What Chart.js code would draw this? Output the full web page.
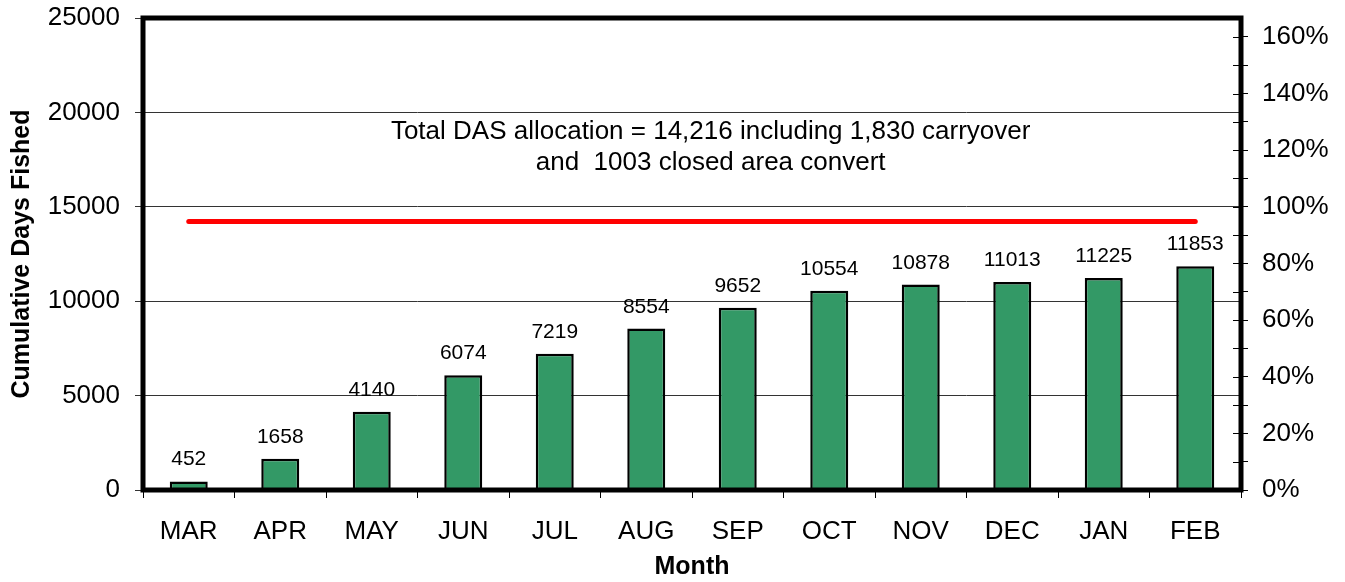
<!DOCTYPE html>
<html><head><meta charset="utf-8">
<script src="https://cdn.jsdelivr.net/npm/chart.js@4/dist/chart.umd.min.js"></script>
<style>html,body{margin:0;padding:0;background:#fff;} canvas{display:block;}</style>
</head><body>
<canvas id="c" width="1345" height="582"></canvas>
<script>
const months = ['MAR','APR','MAY','JUN','JUL','AUG','SEP','OCT','NOV','DEC','JAN','FEB'];
const cumulativeDays = [452, 1658, 4140, 6074, 7219, 8554, 9652, 10554, 10878, 11013, 11225, 11853];
const allocation = [14216, 14216, 14216, 14216, 14216, 14216, 14216, 14216, 14216, 14216, 14216, 14216];
const leftMax = 25000;
const leftStep = 5000;
const percentBaseDays = 15000;   // 100% on the right axis
const rightStep = 10;            // minor tick every 10%, label every 20%
const noteLines = ['Total DAS allocation = 14,216 including 1,830 carryover', 'and  1003 closed area convert'];
const noteValues = [18600, 16950];

const FONT = '"Liberation Sans", Arial, Helvetica, sans-serif';
Chart.defaults.font.family = FONT;
Chart.defaults.color = '#000';

function zeroPad(s) { s.paddingTop = 0; s.paddingBottom = 0; s.paddingLeft = 0; s.paddingRight = 0; }

const overlay = {
  id: 'overlay',
  afterDatasetsDraw(chart) {
    const ctx = chart.ctx;
    const meta = chart.getDatasetMeta(1);
    const a = chart.chartArea;
    const ys = chart.scales.y;
    ctx.save();
    ctx.fillStyle = '#000';
    ctx.textAlign = 'center';
    ctx.textBaseline = 'alphabetic';
    ctx.font = '21px ' + FONT;
    meta.data.forEach((bar, i) => {
      ctx.fillText(String(cumulativeDays[i]), bar.x, bar.y - 16);
    });
    ctx.font = '26px ' + FONT;
    const cx = a.left + a.width * 0.517;
    noteLines.forEach((t, i) => ctx.fillText(t, cx, ys.getPixelForValue(noteValues[i])));
    ctx.restore();
  },
  afterDraw(chart) {
    const ctx = chart.ctx;
    const a = chart.chartArea;
    const y2 = chart.scales.y2;
    ctx.save();
    ctx.strokeStyle = '#000';
    ctx.lineWidth = 1;
    y2.ticks.forEach(t => {
      const py = Math.round(y2.getPixelForValue(t.value)) + 0.5;
      ctx.beginPath();
      ctx.moveTo(a.right - 8, py);
      ctx.lineTo(a.right, py);
      ctx.stroke();
    });
    ctx.lineWidth = 5;
    ctx.strokeRect(a.left, a.top, a.right - a.left, a.bottom - a.top);
    ctx.restore();
  }
};

new Chart(document.getElementById('c'), {
  data: {
    labels: months,
    datasets: [
      {
        type: 'line',
        label: 'Total DAS allocation',
        data: allocation,
        borderColor: '#ff0000',
        borderWidth: 5,
        borderCapStyle: 'round',
        pointRadius: 0,
        fill: false,
        yAxisID: 'y',
        order: 0
      },
      {
        type: 'bar',
        label: 'Cumulative Days Fished',
        data: cumulativeDays,
        backgroundColor: '#339966',
        borderColor: '#000',
        borderWidth: 2.5,
        barPercentage: 0.415,
        categoryPercentage: 1,
        yAxisID: 'y',
        order: 1
      }
    ]
  },
  options: {
    responsive: false,
    devicePixelRatio: 1,
    animation: false,
    layout: { padding: { top: 18, left: 0, right: 0, bottom: 0 } },
    plugins: { legend: { display: false }, tooltip: { enabled: false } },
    scales: {
      x: {
        type: 'category',
        offset: true,
        grid: { display: true, drawOnChartArea: false, drawTicks: true, tickLength: 8, color: '#000', offset: true },
        border: { display: false },
        ticks: { font: { size: 26 }, color: '#000', padding: 18, maxRotation: 0, autoSkip: false },
        title: { display: true, text: 'Month', font: { size: 25, weight: 'bold' }, color: '#000', padding: { top: 0, bottom: 0 } },
        afterFit(s) { s.height = 92; zeroPad(s); }
      },
      y: {
        type: 'linear',
        position: 'left',
        min: 0,
        max: leftMax,
        grid: { color: '#333', lineWidth: 1, drawTicks: true, tickLength: 8 },
        border: { display: false },
        ticks: { stepSize: leftStep, font: { size: 26 }, color: '#000', padding: 15, callback: v => String(v) },
        title: { display: true, text: 'Cumulative Days Fished', font: { size: 25, weight: 'bold' }, color: '#000', padding: { top: 7, bottom: 0 } },
        afterFit(s) { s.width = 143; zeroPad(s); }
      },
      y2: {
        type: 'linear',
        position: 'right',
        min: 0,
        max: leftMax / percentBaseDays * 100,
        grid: { drawOnChartArea: false, drawTicks: true, tickLength: 7, color: '#000' },
        border: { display: false },
        ticks: {
          stepSize: rightStep,
          includeBounds: false,
          autoSkip: false,
          font: { size: 26 },
          color: '#000',
          padding: 14,
          callback: v => (Math.round(v) % 20 === 0 ? Math.round(v) + '%' : '')
        },
        afterFit(s) { s.width = 104; zeroPad(s); }
      }
    }
  },
  plugins: [overlay]
});
</script>
</body></html>
